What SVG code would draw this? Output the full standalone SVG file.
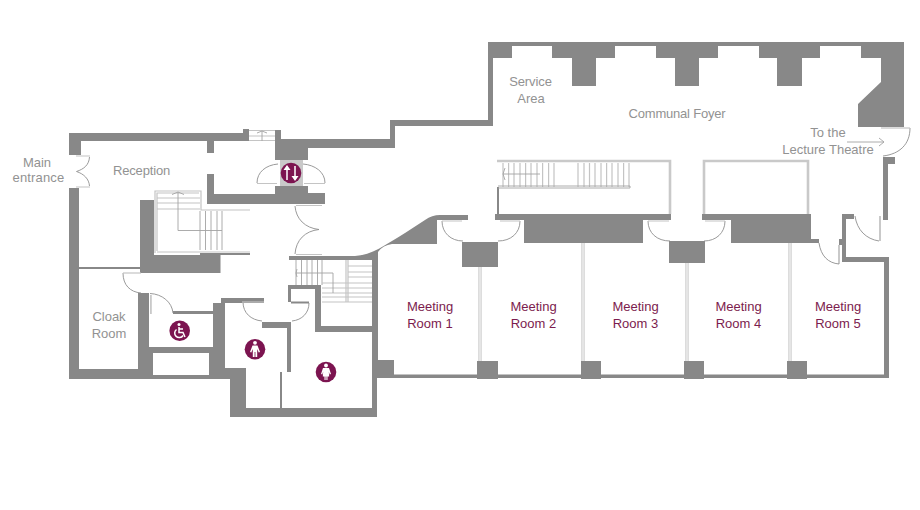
<svg xmlns="http://www.w3.org/2000/svg" width="920" height="510" viewBox="0 0 920 510">
<style>
.w{fill:#888888}
.lb{fill:#c9c9c9}
.d{fill:none;stroke:#8f8f8f;stroke-width:.9}
.t{fill:none;stroke:#a3a3a3;stroke-width:.9}
.s{fill:none;stroke:#c4c4c4;stroke-width:1.2}
.st{fill:none;stroke:#c9c9c9;stroke-width:2.6}
.p1{fill:none;stroke:#c6c6c6;stroke-width:3.2}
.p2{fill:none;stroke:#fff;stroke-width:1.1}
text{font-family:"Liberation Sans",Arial,sans-serif;font-size:13px;text-anchor:middle}
.g{fill:#929292}
.m{fill:#7c1c4e}
.c{fill:#7c1450}
.i{fill:#fff}
.il{fill:none;stroke:#fff;stroke-width:1.5}
</style>
<rect width="920" height="510" fill="#fff"/>
<g id="walls">
<path class="w" d="M69,133H243V129H249V141H214V153H207V141H81V155H69Z"/>
<path class="w" d="M69,188H79V369H138V293H149V347H213V303H221V298H264V303H225V368H246V408H280V372H287V328H262V322H291V372H282V408H372V260H289V256H355C372,255 385,245 405,233L425,220Q432,215 440,215H468V220H437V244H392Q383,245 378,252V360H394V378H377V417H230V379H69Z"/>
<rect x="153" y="353" width="56" height="22" fill="#fff"/>
<path class="w" d="M173,311H213V314H173Z"/>
<path class="w" d="M275,130H281V139H390V120H488V42H904V127H858V104L881,82V58H861V46H820V58H802V86H777V58H759V46H718V58H699V86H675V58H656V46H615V58H596V86H572V58H552V46H512V58H493V126H395V148H308V160H275Z"/>
<path class="w" d="M207,174H214V194H275V186H308V193H325V204H207Z"/>
<path class="w" d="M140,200H154V255H220.500V273H140Z"/>
<path class="w" d="M79,267H140V269H79Z"/>
<path class="w" d="M288,285H321V326H377V332H315V289H291V302H288Z"/>
<path class="w" d="M495,214H671V220H643V243H524V220H495Z"/>
<rect class="w" x="462" y="242" width="36" height="25"/>
<rect class="w" x="669" y="241" width="36" height="22"/>
<path class="w" d="M702,214H811V239H819V243H731V220H702Z"/>
<path class="w" d="M883,157H895V164H888V220H883Z"/>
<path class="w" d="M842,214H854V219H846V257H889V378H394V374.500H884V262H842V245H839V239H842Z"/>
<rect class="w" x="477" y="361" width="21" height="18"/>
<rect class="w" x="581" y="361" width="20" height="18"/>
<rect class="w" x="684" y="361" width="20" height="18"/>
<rect class="w" x="787" y="361" width="20" height="18"/>
<rect class="w" x="200" y="253" width="50" height="2"/>
<rect class="w" x="497" y="187" width="2" height="27"/>
</g>
<g id="glazing">
<path class="st" d="M497,161H670V214"/>
<path class="st" d="M704,214V161H808V214"/>
<path class="p1" d="M480,267V361M583,243V361M687,263V361M790,243V361"/>
<path class="p2" d="M480,267V361M583,243V361M687,263V361M790,243V361"/>
<rect class="lb" x="150" y="295" width="1.800" height="19"/>
<rect class="lb" x="879" y="216" width="2" height="25"/>
<rect class="lb" x="838" y="245" width="2" height="19"/>
</g>
<g id="stairs">
<path class="s" d="M155,253V191H201V210H250M157,251V193H199M157,252H250M157,198H200M157,203H200M157,209H200"/>
<path class="t" d="M200,211V250M205.500,211V250M211,211V250M217,211V250M222,211V250"/>
<path class="t" d="M178,192V230.500H222M172,194.500L178,192L184,194.500"/>
<path class="s" d="M249,130.500H275M249,136H275M249,140.500H275"/>
<path class="t" d="M262,131V141M257,133L262,131L267,133"/>
<path class="s" d="M503,163V187M508.600,163V187M514,163V187M520,163V187M525.600,163V187M531,163V187M537,163V187M542.600,163V187M548.600,163V187M554,163V187M578,163V187M584,163V187M589.500,163V187M595,163V187M601,163V187M606.600,163V187M612,163V187M618,163V187M623.600,163V187M629,163V187"/>
<path class="t" d="M540,174H503M505,168L503,174L505,180"/>
<path class="t" d="M498,186H630V188H498"/>
<path class="t" d="M296,260V285M301.500,260V285M307,260V285M312,260V285M317.500,260V285M322,260V285"/>
<path class="s" d="M346,260V302M348,260V302"/>
<path class="s" d="M348,266H372M348,272H372M348,277H372M322,283H372M322,288H372M322,293H372M322,297H372M322,302H372"/>
<path class="t" d="M296,273H333V293M297,269L296,273L297,277"/>
</g>
<g id="doors">
<path class="d" d="M89.500,157C89,165 84,169 76.500,171.500C84,174 89,179 89.500,186"/>
<path class="s" d="M76,156H90M76,187H90"/>
<path class="d" d="M123,273C123,285 130,292 141,293"/>
<path class="s" d="M123,273H141"/>
<path class="d" d="M150,293.500C162,294 172,302 173,313"/>
<path class="d" d="M243,302C243,313 251,320 262,321"/>
<path class="s" d="M242,302H264"/>
<path class="d" d="M309,303C309,313 302,320 292,321"/>
<path class="w" d="M291,301.500H309V303.500H291Z"/>
<path class="d" d="M257,183C257,172 266,165 278,164M325,183C325,172 315,165 303,164"/>
<path class="s" d="M257,183.500H277M304,183.500H325"/>
<path class="d" d="M295,206C296,219 305,228 319,229.500C305,231 296,240 295,254"/>
<path class="s" d="M296,205.500H322M296,254.500H322"/>
<path class="d" d="M442,221C442,233 451,241 463,241M520,221C520,233 511,241 498,241M648,221C648,233 657,241 670,241M725,221C725,233 716,241 704,241"/>
<path class="s" d="M442,221H462M500,221H520M648,221H669M705,221H725"/>
<path class="d" d="M855,216C857,230 866,239 879,241M819,243C821,256 828,263 839,264"/>
<path class="d" d="M910,128C910,144 900,154 883,156"/>
<path class="s" d="M881,128H910"/>
<path class="t" d="M847,142H884M879,138L884,142L879,146"/>
</g>
<g id="lift">
<rect class="lb" x="280" y="160" width="23" height="26"/>
<circle class="c" cx="291" cy="173" r="10.300"/>
<path class="il" d="M287,180V168M295,166V178"/>
<path class="i" d="M287,165L283.500,170H290.500ZM295,181L291.500,176H298.500Z"/>
</g>
<g id="accessible-wc">
<circle class="c" cx="179.700" cy="330.700" r="10.300"/>
<circle class="i" cx="179" cy="324.500" r="1.500"/>
<path class="il" d="M179,327V332.500H183L185,337M179,329H183"/>
<path class="il" d="M176.500,329.500A4.500,4.500 0 1 0 183,335.500"/>
</g>
<g id="men-wc">
<circle class="c" cx="255" cy="349.300" r="10.300"/>
<circle class="i" cx="255" cy="342.800" r="1.900"/>
<path class="i" d="M252.500,345.500H257.500L260,352L258.700,352.500L257.200,349V357H255.400V352H254.600V357H252.800V349L251.300,352.500L250,352Z"/>
</g>
<g id="women-wc">
<circle class="c" cx="326" cy="372" r="10.300"/>
<circle class="i" cx="326" cy="365.500" r="1.900"/>
<path class="i" d="M323,368H329L331,374L329.700,374.400L328.800,371.500L329.200,376.500H327.500V380H326.400V376.500H325.600V380H324.500V376.500H322.800L323.200,371.500L322.300,374.400L321,374Z"/>
</g>
<g id="labels">
<text class="g" x="37" y="167">Main</text><text class="g" x="38.500" y="182" letter-spacing=".15">entrance</text>
<text class="g" x="141.500" y="175" letter-spacing="-.15">Reception</text>
<text class="g" x="109" y="321">Cloak</text><text class="g" x="109" y="338">Room</text>
<text class="g" x="530.500" y="86" letter-spacing="-.1">Service</text><text class="g" x="531" y="103">Area</text>
<text class="g" x="677" y="118" letter-spacing="-.2">Communal Foyer</text>
<text class="g" x="828" y="137">To the</text><text class="g" x="828" y="154">Lecture Theatre</text>
<text class="m" x="430" y="311">Meeting</text><text class="m" x="430" y="328">Room 1</text>
<text class="m" x="533.500" y="311">Meeting</text><text class="m" x="533.500" y="328">Room 2</text>
<text class="m" x="635.500" y="311">Meeting</text><text class="m" x="635.500" y="328">Room 3</text>
<text class="m" x="738.500" y="311">Meeting</text><text class="m" x="738.500" y="328">Room 4</text>
<text class="m" x="838" y="311">Meeting</text><text class="m" x="838" y="328">Room 5</text>
</g>
</svg>
